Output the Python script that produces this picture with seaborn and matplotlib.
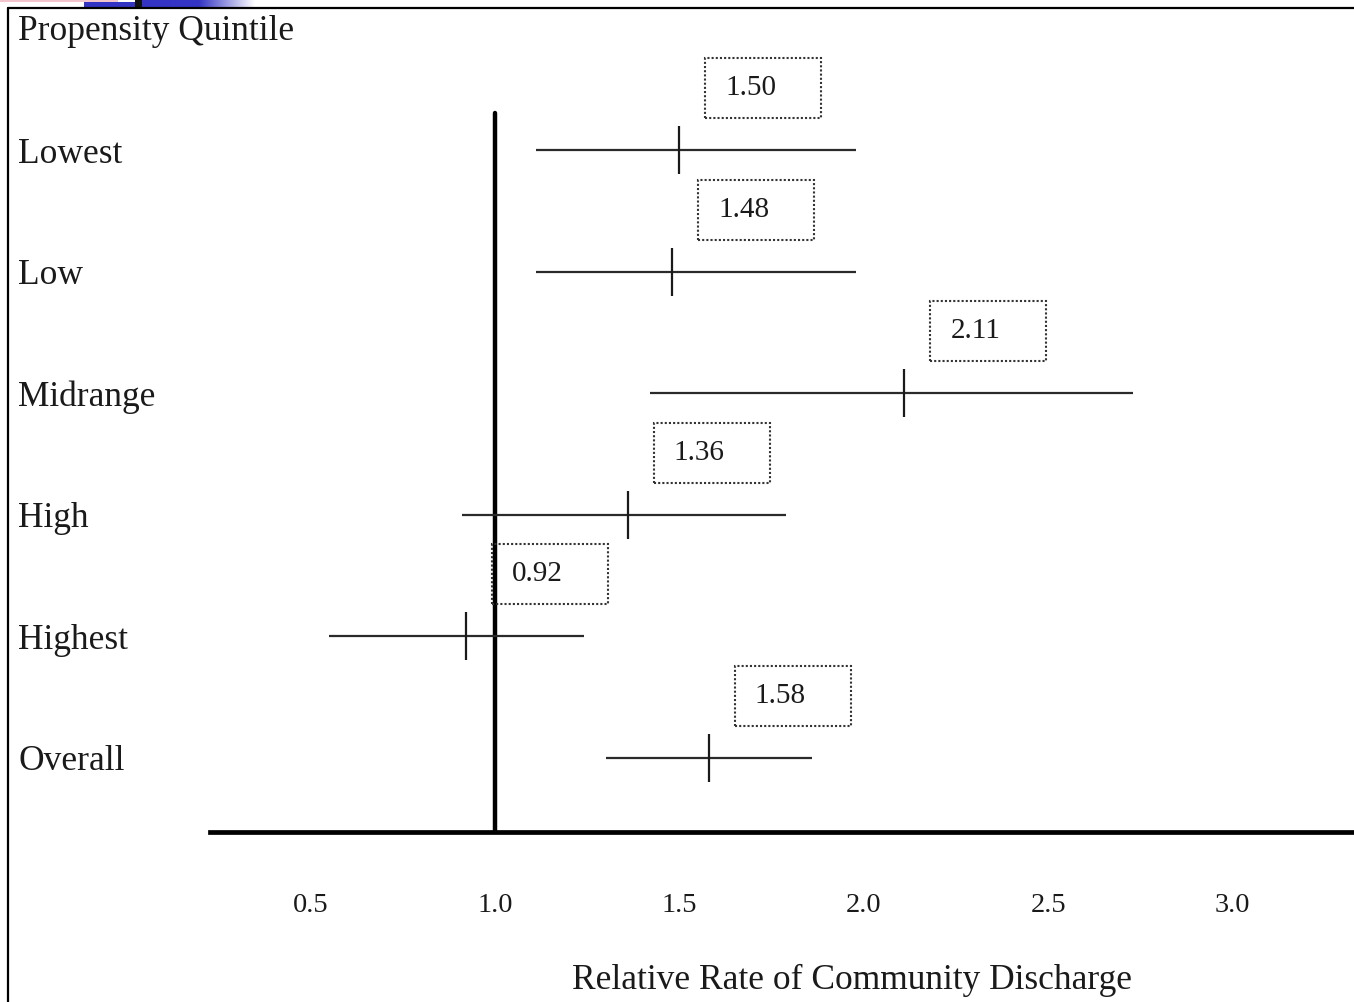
import numpy as np
import pandas as pd
import matplotlib
matplotlib.use("Agg")
import matplotlib.pyplot as plt
import matplotlib.transforms as mtransforms
from matplotlib.patches import Rectangle
from matplotlib.lines import Line2D
import seaborn as sns

# Relative rate of community discharge by propensity quintile
categories = ["Lowest", "Low", "Midrange", "High", "Highest", "Overall"]
rate = [1.50, 1.48, 2.11, 1.36, 0.92, 1.58]
ci_low = [1.11, 1.11, 1.42, 0.91, 0.55, 1.30]
ci_high = [1.98, 1.98, 2.73, 1.79, 1.24, 1.86]
xticks = [0.5, 1.0, 1.5, 2.0, 2.5, 3.0]
xtick_labels = ["0.5", "1.0", "1.5", "2.0", "2.5", "3.0"]

df = pd.DataFrame({"quintile": categories, "rate": rate,
                   "lo": ci_low, "hi": ci_high})

sns.set_theme(style="white")
plt.rcParams["font.family"] = ["Liberation Serif", "DejaVu Serif"]
ink = "#1a1a1a"

W, H = 1354, 1002
fig = plt.figure(figsize=(W / 100, H / 100), dpi=100)
ax = fig.add_axes([210 / W, 1 - 832 / H, 1144 / W, 792 / H])

# confidence intervals
ypos = np.arange(len(df))
ax.hlines(ypos, df["lo"], df["hi"], color="#2a2a2a", linewidth=1.6, zorder=2)

# point estimates as vertical ticks
sns.scatterplot(data=df, x="rate", y="quintile", marker="|", s=34 ** 2,
                linewidth=1.6, color=ink, ax=ax, zorder=3, legend=False)

# reference line at a rate of 1.0
ax.axvline(1.0, ymin=0, ymax=(832 - 113) / 792, color="black",
           linewidth=3.2, zorder=1)

ax.set_xlim(0.2272, 3.329)
ax.set_ylim(5.609, -0.905)

ax.set_xticks(xticks, xtick_labels)
ax.set_yticks(ypos, categories)
ax.tick_params(axis="x", length=0, pad=44, labelsize=20.5, colors=ink)
ax.tick_params(axis="y", length=0, pad=138, labelsize=25.5, colors=ink)
for lab in ax.get_yticklabels():
    lab.set_ha("left")

for side in ["top", "right", "left"]:
    ax.spines[side].set_visible(False)
ax.spines["bottom"].set_linewidth(3.4)
ax.spines["bottom"].set_color("black")

ax.set_ylabel("")
ax.set_xlabel("Relative Rate of Community Discharge", fontsize=25.5, color=ink)
ax.xaxis.set_label_coords(0.561, -0.166)

# dotted value boxes above each estimate
for i, v in enumerate(rate):
    tr = fig.dpi_scale_trans + mtransforms.ScaledTranslation(v, i, ax.transData)
    ax.add_patch(Rectangle((0.26, 0.32), 1.16, 0.60, transform=tr,
                           fill=False, edgecolor="#333333", linewidth=1.5,
                           linestyle=(0, (1, 1)), clip_on=False))
    ax.text(0.46, 0.62, f"{v:.2f}", transform=tr, ha="left", va="center",
            fontsize=21, color=ink, clip_on=False)

fig.text(18 / W, 1 - 31 / H, "Propensity Quintile", ha="left", va="center",
         fontsize=25.5, color=ink)

# frame and slide strip
fig.add_artist(Line2D([8 / W, 1], [1 - 8 / H, 1 - 8 / H], color="black",
                      linewidth=1.6, transform=fig.transFigure))
fig.add_artist(Line2D([8 / W, 8 / W], [1 - 8 / H, 0], color="black",
                      linewidth=1.6, transform=fig.transFigure))
fig.add_artist(Rectangle((0, 1 - 2 / H), 118 / W, 2 / H, color="#f2c4cc",
                         transform=fig.transFigure, linewidth=0))
fig.add_artist(Rectangle((84 / W, 1 - 7 / H), 51 / W, 5 / H, color="#3333c4",
                         transform=fig.transFigure, linewidth=0))
fig.add_artist(Rectangle((135 / W, 1 - 8 / H), 7 / W, 8 / H, color="#111111",
                         transform=fig.transFigure, linewidth=0))
gax = fig.add_axes([142 / W, 1 - 7 / H, 113 / W, 7 / H])
grad = np.linspace(0, 1, 256)[None, :]
gcmap = matplotlib.colors.LinearSegmentedColormap.from_list(
    "strip", ["#3333c4", "#3333c4", "#ffffff"])
gax.imshow(grad, aspect="auto", cmap=gcmap)
gax.set_axis_off()

fig.savefig("out.png", dpi=100, facecolor="white")
